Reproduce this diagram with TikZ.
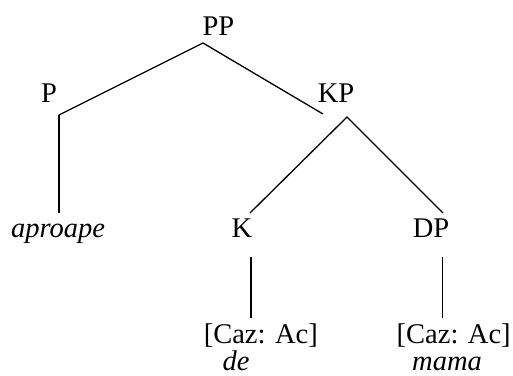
\documentclass[tikz,border=0pt]{standalone}
\usepackage{fontspec}
\setmainfont{Liberation Serif}
\begin{document}
\begin{tikzpicture}[x=1pt,y=-1pt,
  lbl/.style={anchor=base,inner sep=0pt,font=\fontsize{28.5}{34}\selectfont},
  edge/.style={line width=1.3pt,line cap=butt}]
\useasboundingbox (0,0) rectangle (513,375);
% labels
\node[lbl] (PP) at (218.5,35) {PP};
\node[lbl] (P) at (49,102) {P};
\node[lbl] (KP) at (336,102) {KP};
\node[lbl] (apro) at (58,237) {\itshape aproape};
\node[lbl] (K) at (242,237) {K};
\node[lbl] (DP) at (431,237) {DP};
\node[lbl] (cazK) at (260.8,343) {[Caz: Ac]};
\node[lbl] (cazD) at (453.7,343) {[Caz: Ac]};
\node[lbl] (de) at (236,370) {\itshape de};
\node[lbl] (mama) at (447,370) {\itshape mama};
% connector end points
\coordinate (ppB) at (203,43);
\coordinate (pT) at (59,115);
\coordinate (pB) at (59,213);
\coordinate (kpT) at (323,114);
\coordinate (kpB) at (347,117);
\coordinate (kT) at (250,213);
\coordinate (dpT) at (443,213);
\coordinate (kB) at (251,257);
\coordinate (kE) at (251,318);
\coordinate (dpB) at (442.5,257);
\coordinate (dpE) at (442.5,318);
% connectors
\draw[edge] (pT) -- (ppB) -- (kpT);
\draw[edge] (pT) -- (pB);
\draw[edge] (kT) -- (kpB) -- (dpT);
\draw[edge] (kB) -- (kE);
\draw[edge] (dpB) -- (dpE);
\end{tikzpicture}
\end{document}
